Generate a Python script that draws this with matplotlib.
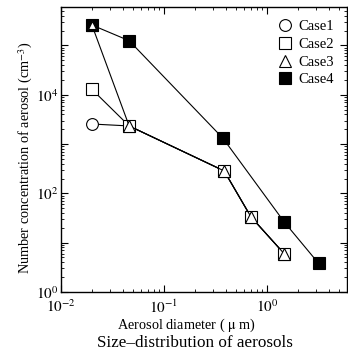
import matplotlib
matplotlib.use("Agg")
import matplotlib.pyplot as plt
from matplotlib.ticker import LogLocator, FixedLocator, FixedFormatter, NullFormatter

plt.rcParams['font.family'] = ['Liberation Serif', 'DejaVu Serif']
plt.rcParams['mathtext.fontset'] = 'stix'

# aerosol diameter (um) and number concentration (cm^-3)
d_case1 = [0.02, 0.046, 0.385, 0.70, 1.48]
n_case1 = [2550, 2330, 285, 33.5, 5.9]
d_case2 = [0.02, 0.046, 0.385, 0.70, 1.48]
n_case2 = [12900, 2330, 285, 33.5, 5.9]
d_case3 = [0.02, 0.046, 0.385, 0.70, 1.48]
n_case3 = [2.6e5, 2330, 285, 33.5, 5.9]
d_case4 = [0.02, 0.046, 0.375, 1.48, 3.18]
n_case4 = [2.6e5, 1.25e5, 1310, 26, 3.8]

labels = ["Case1", "Case2", "Case3", "Case4"]

fig = plt.figure(figsize=(3.48, 3.56), dpi=100)
ax = fig.add_axes([0.175, 0.18, 0.822, 0.80])

ms = 8.5
ax.plot(d_case1, n_case1, 'k-', lw=0.8, marker='o', ms=ms, mfc='white', mec='black', mew=0.8, label=labels[0])
ax.plot(d_case2, n_case2, 'k-', lw=0.8, marker='s', ms=ms, mfc='white', mec='black', mew=0.8, label=labels[1])
ax.plot(d_case3, n_case3, 'k-', lw=0.8, marker='^', ms=ms, mfc='white', mec='black', mew=0.8, label=labels[2])
ax.plot(d_case4, n_case4, 'k-', lw=0.8, marker='s', ms=ms, mfc='black', mec='black', mew=0.8, label=labels[3])
# redraw triangle on top of the filled square at the first point
ax.plot(d_case3[:1], n_case3[:1], ls='none', marker='^', ms=ms - 2.5, mfc='white', mec='black', mew=0.8)

ax.set_xscale('log')
ax.set_yscale('log')
ax.set_xlim(0.01, 6.0)
ax.set_ylim(1, 6e5)

ax.xaxis.set_major_locator(FixedLocator([0.01, 0.1, 1]))
ax.xaxis.set_major_formatter(FixedFormatter([r'$10^{-2}$', r'$10^{-1}$', r'$10^{0}$']))
ax.xaxis.set_minor_locator(LogLocator(base=10, subs=range(2, 10), numticks=20))
ax.xaxis.set_minor_formatter(NullFormatter())

ydec = [1, 10, 100, 1e3, 1e4, 1e5]
ax.yaxis.set_major_locator(FixedLocator(ydec))
ax.yaxis.set_major_formatter(FixedFormatter([r'$10^{0}$', '', r'$10^{2}$', '', r'$10^{4}$', '']))
ax.yaxis.set_minor_locator(LogLocator(base=10, subs=range(2, 10), numticks=20))
ax.yaxis.set_minor_formatter(NullFormatter())

ax.tick_params(which='both', direction='in', top=True, right=True, labelsize=11)
ax.tick_params(axis='x', pad=5)
ax.tick_params(axis='y', pad=2)
ax.tick_params(which='major', length=5, width=0.8)
ax.tick_params(which='minor', length=2.5, width=0.6)
for s in ax.spines.values():
    s.set_linewidth(1.0)

ax.set_ylabel(r'Number concentration of aerosol (cm$^{-3}$)', fontsize=10.3)
ax.yaxis.set_label_coords(-0.09, 0.47)
fig.text(0.535, 0.087, r'Aerosol diameter ( $\mathrm{\mu}$ m)', ha='center', va='center', fontsize=10.3)
fig.text(0.56, 0.036, 'Size\u2013distribution of aerosols', ha='center', va='center', fontsize=12.3)

ax.legend(loc='upper right', frameon=False, fontsize=10.5, handlelength=1.0, handletextpad=0.4,
          labelspacing=0.3, borderaxespad=0.5, markerscale=1.0)
leg = ax.get_legend()
for line in leg.get_lines():
    line.set_linestyle('none')

fig.savefig('out.png', dpi=100)
